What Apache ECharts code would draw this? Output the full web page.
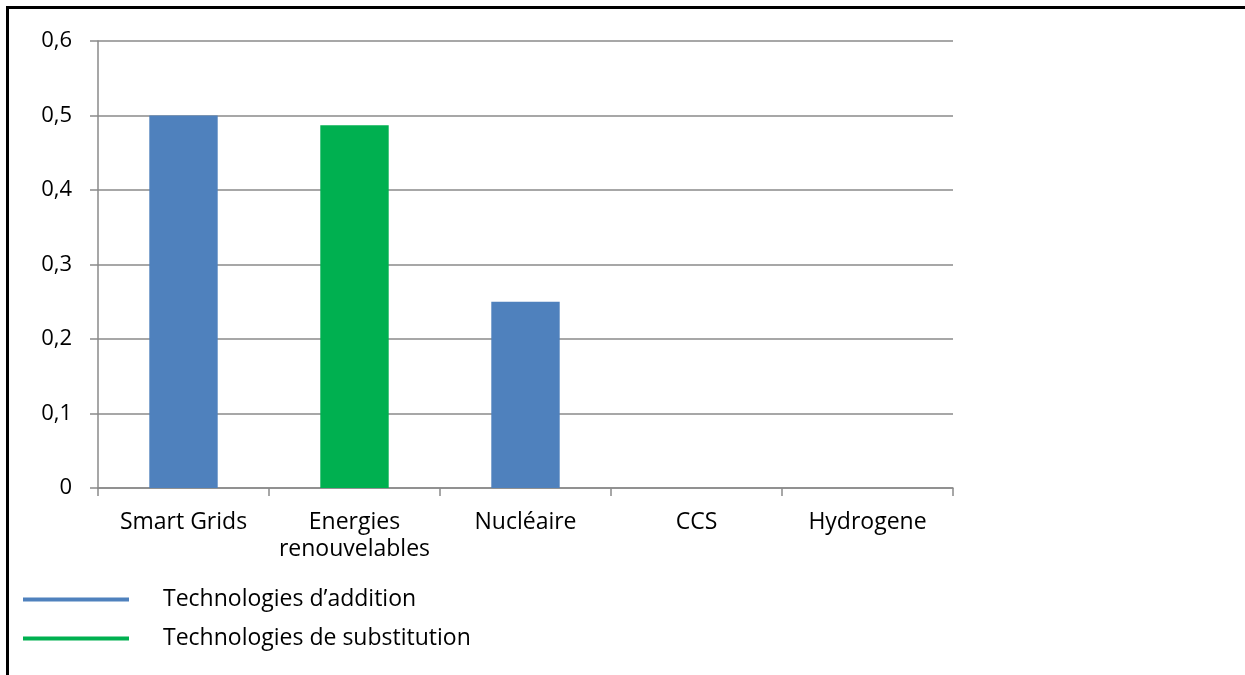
<!DOCTYPE html>
<html lang="fr" style="height: 100%">
<head>
<meta charset="utf-8">
<title>Technologies</title>
</head>
<body style="height: 100%; margin: 0">
<div id="frame" style="position:absolute; left:6px; top:6px; right:0; bottom:0; border-top:3px solid #000; border-left:3px solid #000;"></div>
<div id="container" style="position:absolute; left:0; top:0; width:1245px; height:675px;"></div>

<script type="text/javascript" src="https://cdn.jsdelivr.net/npm/echarts/dist/echarts.min.js"></script>
<script type="text/javascript">

var categories = ['Smart Grids', 'Energies\nrenouvelables', 'Nucléaire', 'CCS', 'Hydrogene'];
var additionValues = [0.5, null, 0.25, 0, 0];
var substitutionValues = [null, 0.487, null, null, null];
var seriesNames = ['Technologies d\u2019addition', 'Technologies de substitution'];

var dom = document.getElementById('container');
var myChart = echarts.init(dom);

var axisColor = '#8a8a8a';
var font = '"Open Sans", Lato, sans-serif';

var option = {
  animation: false,
  textStyle: { fontFamily: font },
  grid: { left: 98, right: 292, top: 41, bottom: 187 },
  legend: {
    orient: 'vertical',
    left: 23,
    top: 586,
    padding: 0,
    icon: 'rect',
    itemWidth: 106,
    itemHeight: 4,
    itemGap: 12,
    textStyle: { fontSize: 23, color: '#000', fontFamily: font, lineHeight: 27, padding: [0, 0, 0, 29] },
    data: seriesNames
  },
  xAxis: {
    type: 'category',
    data: categories,
    axisLine: { lineStyle: { color: axisColor, width: 1.5 } },
    axisTick: { show: true, interval: 0, length: 8, lineStyle: { color: axisColor, width: 1.5 } },
    axisLabel: { interval: 0, color: '#000', fontSize: 23, margin: 21, lineHeight: 27, fontFamily: font }
  },
  yAxis: {
    type: 'value',
    min: 0,
    max: 0.6,
    interval: 0.1,
    axisLine: { show: true, lineStyle: { color: axisColor, width: 1.5 } },
    axisTick: { show: true, length: 8, lineStyle: { color: axisColor, width: 1.5 } },
    splitLine: { lineStyle: { color: axisColor, width: 1.5 } },
    axisLabel: {
      color: '#000',
      fontSize: 22,
      margin: 26,
      fontFamily: font,
      formatter: function (v) { return String(Math.round(v * 10) / 10).replace('.', ','); }
    }
  },
  series: [
    {
      name: seriesNames[0],
      type: 'bar',
      stack: 'all',
      barWidth: '40%',
      itemStyle: { color: '#4f81bd' },
      data: additionValues
    },
    {
      name: seriesNames[1],
      type: 'bar',
      stack: 'all',
      barWidth: '40%',
      itemStyle: { color: '#00b050' },
      data: substitutionValues
    }
  ]
};

myChart.setOption(option);
window.addEventListener('resize', myChart.resize);
</script>
</body>
</html>
